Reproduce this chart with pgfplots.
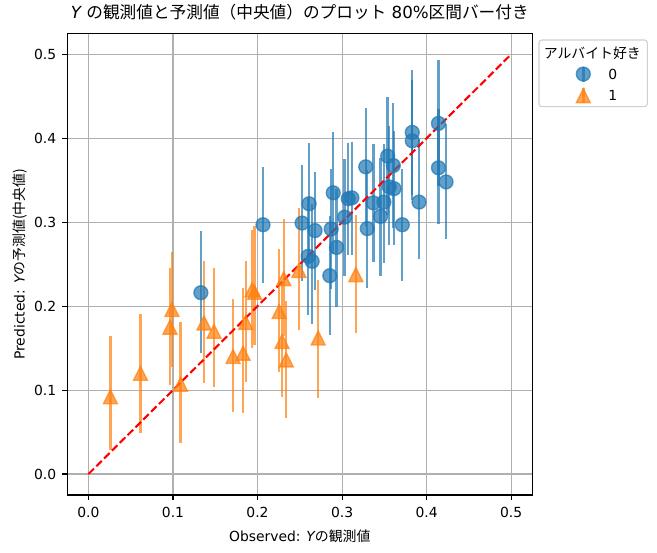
\documentclass[border=0pt]{standalone}
\usepackage{fontspec}
\setmainfont{DejaVu Sans}
\newfontfamily\jp{Noto Sans CJK JP}
\usepackage{pgfplots}
\pgfplotsset{compat=1.18}
\usepackage{pgfplotstable}
\definecolor{mblue}{HTML}{1F77B4}
\definecolor{morange}{HTML}{FF7F0E}
\definecolor{gridgray}{HTML}{B0B0B0}
\definecolor{legframe}{HTML}{D0D0D0}

\pgfdeclareplotmark{mtri}{%
  \pgfpathmoveto{\pgfqpoint{0pt}{\pgfplotmarksize}}%
  \pgfpathlineto{\pgfqpoint{-\pgfplotmarksize}{-\pgfplotmarksize}}%
  \pgfpathlineto{\pgfqpoint{\pgfplotmarksize}{-\pgfplotmarksize}}%
  \pgfpathclose
  \pgfusepathqfillstroke}

\pgfplotstableread{
x y lo hi
0.133 0.216 0.144 0.290
0.2065 0.297 0.2275 0.3655
0.2527 0.299 0.2295 0.3687
0.261 0.322 0.252 0.394
0.268 0.290 0.2196 0.360
0.2599 0.2593 0.189 0.329
0.2646 0.2534 0.179 0.322
0.2855 0.2363 0.166 0.307
0.2871 0.292 0.221 0.3628
0.2895 0.335 0.262 0.4077
0.2935 0.270 0.199 0.340
0.303 0.306 0.2355 0.3755
0.3073 0.328 0.261 0.3946
0.3116 0.329 0.2613 0.396
0.328 0.366 0.296 0.4356
0.3298 0.2924 0.2216 0.362
0.337 0.323 0.2526 0.3926
0.3455 0.307 0.2363 0.3759
0.3495 0.324 0.2514 0.3934
0.3539 0.3787 0.308 0.4495
0.3606 0.3675 0.2935 0.4415
0.3558 0.342 0.273 0.4144
0.3614 0.340 0.2725 0.4085
0.3712 0.297 0.2295 0.3636
0.383 0.407 0.333 0.481
0.383 0.397 0.327 0.470
0.391 0.324 0.2566 0.3986
0.414 0.4177 0.343 0.4928
0.414 0.3648 0.298 0.4344
0.423 0.348 0.2804 0.4165
}\bluedata

\pgfplotstableread{
x y lo hi
0.026 0.092 0.029 0.165
0.0616 0.120 0.049 0.191
0.109 0.107 0.037 0.181
0.0987 0.196 0.128 0.265
0.0964 0.175 0.106 0.246
0.1367 0.180 0.109 0.254
0.1485 0.170 0.104 0.245
0.171 0.140 0.074 0.209
0.1829 0.144 0.0724 0.2216
0.186 0.1806 0.110 0.254
0.1935 0.2195 0.150 0.291
0.1965 0.2165 0.154 0.295
0.2256 0.1937 0.122 0.2685
0.231 0.2327 0.165 0.304
0.229 0.158 0.092 0.230
0.234 0.136 0.067 0.206
0.249 0.2426 0.172 0.317
0.2717 0.162 0.091 0.2315
0.3163 0.2375 0.168 0.308
}\orangedata

\begin{document}
\begin{tikzpicture}
\path[use as bounding box] (-48.46pt,-41.04pt) rectangle (424.58pt,356.4pt);
\begin{axis}[name=ax, at={(0,0)}, anchor=south west,
  scale only axis, width=334.8pt, height=332.4pt,
  xmin=-0.025, xmax=0.525, ymin=-0.025, ymax=0.525,
  xtick={0,0.1,0.2,0.3,0.4,0.5}, ytick={0,0.1,0.2,0.3,0.4,0.5},
  /pgf/number format/.cd, fixed, fixed zerofill, precision=1, assume math mode=true, /pgfplots/.cd,
  tick label style={font=\fontsize{10}{12}\selectfont},
  xticklabel style={yshift=-1.7pt},
  yticklabel style={xshift=-1pt},
  grid=major, grid style={gridgray, line width=0.8pt},
  axis line style={line width=0.8pt},
  tick align=outside, major tick length=3.5pt, tick style={line width=0.8pt, black},
  xtick pos=bottom, ytick pos=left,
  title={{\itshape Y} {\jp の観測値と予測値（中央値）のプロット} 80\%{\jp 区間バー付き}},
  title style={font=\fontsize{12}{14}\selectfont, at={(axis description cs:0.5,1.015)}, anchor=base},
  xlabel={Observed: {\itshape Y}{\jp の観測値}},
  ylabel={Predicted: {\itshape Y}{\jp の予測値(中央値)}},
  label style={font=\fontsize{10}{12}\selectfont},
  xlabel style={at={(axis description cs:0.5,-0.0887)}, anchor=center},
  ylabel style={at={(axis description cs:-0.1016,0.5)}, anchor=center},
  legend style={at={(axis description cs:1,1)}, anchor=north west, xshift=28.2pt, yshift=-22.3pt,
    draw=none, fill=none, inner sep=0pt, outer sep=0pt, row sep=1.6pt, column sep=9.5pt,
    cells={anchor=west}, nodes={inner sep=0pt, text depth=0pt}, font=\fontsize{10}{12}\selectfont},
]
\addplot[color=mblue, only marks, mark=*, mark size=5pt,
  mark options={line width=1pt, fill opacity=0.7, draw opacity=0.7},
  error bars/.cd, y dir=both, y explicit, error mark=none,
  error bar style={mblue, line width=1.7pt, opacity=0.7},
  /pgfplots/legend image code/.code={
    \path[draw=none, fill=none] (0cm,-7pt) rectangle (0.6cm,7pt);
    \draw[mblue, line width=1.7pt, opacity=0.7] (0.3cm,-5.4pt) -- (0.3cm,5.4pt);
    \draw[mblue, line width=1pt, fill opacity=0.7, draw opacity=0.7, mark size=5pt] plot[mark=*, only marks] coordinates {(0.3cm,0cm)};
  }]
  table[x=x, y=y, y error plus expr=\thisrow{hi}-\thisrow{y}, y error minus expr=\thisrow{y}-\thisrow{lo}] {\bluedata};
\addlegendentry{0}
\addplot[color=morange, only marks, mark=mtri, mark size=5pt,
  mark options={line width=1pt, fill opacity=0.7, draw opacity=0.7},
  error bars/.cd, y dir=both, y explicit, error mark=none,
  error bar style={morange, line width=1.7pt, opacity=0.7},
  /pgfplots/legend image code/.code={
    \path[draw=none, fill=none] (0cm,-7pt) rectangle (0.6cm,7pt);
    \draw[morange, line width=1.7pt, opacity=0.7] (0.3cm,-5.4pt) -- (0.3cm,5.4pt);
    \draw[morange, line width=1pt, fill opacity=0.7, draw opacity=0.7, mark size=5pt] plot[mark=mtri, only marks] coordinates {(0.3cm,0cm)};
  }]
  table[x=x, y=y, y error plus expr=\thisrow{hi}-\thisrow{y}, y error minus expr=\thisrow{y}-\thisrow{lo}] {\orangedata};
\addlegendentry{1}
\addplot[red, line width=1.5pt, dash pattern=on 5.55pt off 2.4pt, forget plot] coordinates {(0,0) (0.5,0.5)};
\end{axis}
\draw[legframe, line width=0.8pt, rounded corners=2pt] ([xshift=4.8pt,yshift=-4.8pt]ax.north east) rectangle ([xshift=82.8pt,yshift=-52.8pt]ax.north east);
\node[font=\jp\fontsize{10}{12}\selectfont, anchor=center, inner sep=0pt] at ([xshift=43.2pt,yshift=-14.2pt]ax.north east) {アルバイト好き};
\end{tikzpicture}
\end{document}
